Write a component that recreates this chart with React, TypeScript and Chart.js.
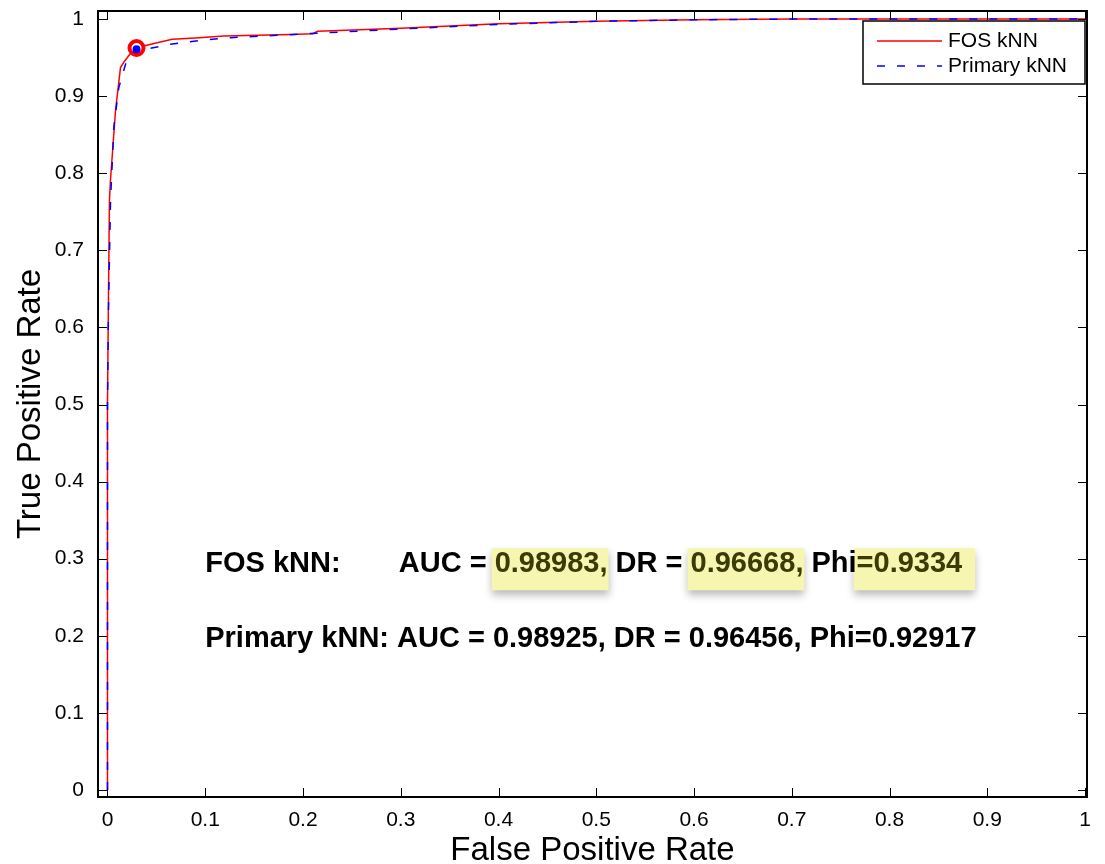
import React, { useEffect, useRef } from "react";
import { Chart, registerables } from "chart.js";

Chart.register(...registerables);

const FONT = '"Liberation Sans", Arial, Helvetica, sans-serif';

const seriesNames = ["FOS kNN", "Primary kNN"];

const fosX = [0, 0, 0.001, 0.002, 0.003, 0.0082, 0.0133, 0.0167, 0.0228, 0.0297, 0.0371, 0.0508, 0.0662, 0.09, 0.119, 0.187, 0.21, 0.215, 0.3, 0.4, 0.5, 0.6, 0.7, 1];
const fosY = [0, 0.5, 0.64, 0.764, 0.79, 0.881, 0.937, 0.9439, 0.9543, 0.9624, 0.965, 0.9693, 0.9737, 0.9755, 0.978, 0.98, 0.981, 0.984, 0.988, 0.994, 0.997, 0.999, 1, 1];

const priX = [0, 0, 0.001, 0.0031, 0.0065, 0.0116, 0.0184, 0.0235, 0.0297, 0.0389, 0.0644, 0.0951, 0.1258, 0.1736, 0.22, 0.3, 0.4, 0.5, 0.6, 0.7, 1];
const priY = [0, 0.5, 0.62, 0.764, 0.86, 0.911, 0.941, 0.954, 0.9605, 0.9607, 0.9672, 0.9724, 0.9758, 0.9789, 0.982, 0.987, 0.993, 0.997, 0.999, 1, 1];

const fosPoint = [0.0297, 0.9624];
const priPoint = [0.0297, 0.9608];

const fosStats = ["0.98983", "0.96668", "0.9334"];
const priStats = ["0.98925", "0.96456", "0.92917"];

const xTicks = [0, 0.1, 0.2, 0.3, 0.4, 0.5, 0.6, 0.7, 0.8, 0.9, 1];
const yTicks = [0, 0.1, 0.2, 0.3, 0.4, 0.5, 0.6, 0.7, 0.8, 0.9, 1];

const fmt = (v: number) => (v === 0 ? "0" : v === 1 ? "1" : v.toFixed(1));

const toPts = (xs: number[], ys: number[]) => xs.map((x, i) => ({ x, y: ys[i] }));

const overlay = {
  id: "overlay",
  afterDatasetsDraw(chart: any) {
    const { ctx, chartArea: ca } = chart;
    const xs = chart.scales.x;
    const ys = chart.scales.y;
    ctx.save();

    // annotation text
    ctx.font = `bold 29px ${FONT}`;
    ctx.textBaseline = "alphabetic";
    ctx.textAlign = "left";
    const x0 = xs.getPixelForValue(0.1);
    const x1 = xs.getPixelForValue(0.298);
    const yb1 = ys.getPixelForValue(0.2824);
    const yb2 = ys.getPixelForValue(0.185);
    ctx.fillStyle = "#000";
    ctx.fillText(`${seriesNames[0]}:`, x0, yb1);
    const segs: [string, boolean][] = [
      ["AUC = ", false],
      [fosStats[0] + ",", true],
      [" DR = ", false],
      [fosStats[1] + ",", true],
      [" Phi", false],
      ["=" + fosStats[2], true],
    ];
    let cx = x1;
    const pos = segs.map(([t]) => {
      const p = cx;
      cx += ctx.measureText(t).width;
      return p;
    });
    segs.forEach(([t, h], i) => {
      if (!h) return;
      const w = ctx.measureText(t).width;
      ctx.save();
      ctx.shadowColor = "rgba(0,0,0,0.28)";
      ctx.shadowBlur = 8;
      ctx.shadowOffsetY = 5;
      ctx.fillStyle = "rgb(246,246,176)";
      ctx.fillRect(pos[i] - 3, yb1 - 24, w + (i === 5 ? 16 : 4), 42);
      ctx.restore();
    });
    segs.forEach(([t, h], i) => {
      ctx.fillStyle = h ? "#3b3b06" : "#000";
      ctx.fillText(t, pos[i], yb1);
    });
    ctx.fillStyle = "#000";
    ctx.fillText(
      `${seriesNames[1]}: AUC = ${priStats[0]}, DR = ${priStats[1]}, Phi=${priStats[2]}`,
      x0,
      yb2
    );

    // frame
    ctx.strokeStyle = "#000";
    ctx.lineWidth = 2;
    ctx.strokeRect(ca.left, ca.top, ca.right - ca.left, ca.bottom - ca.top);
    // inward ticks
    ctx.lineWidth = 1;
    const tl = 9;
    ctx.beginPath();
    xTicks.forEach((v) => {
      const px = Math.round(xs.getPixelForValue(v)) + 0.5;
      ctx.moveTo(px, ca.bottom);
      ctx.lineTo(px, ca.bottom - tl);
      ctx.moveTo(px, ca.top);
      ctx.lineTo(px, ca.top + tl);
    });
    yTicks.forEach((v) => {
      const py = Math.round(ys.getPixelForValue(v)) + 0.5;
      ctx.moveTo(ca.left, py);
      ctx.lineTo(ca.left + tl, py);
      ctx.moveTo(ca.right, py);
      ctx.lineTo(ca.right - tl, py);
    });
    ctx.stroke();

    // legend
    const lw = 222;
    const lh = 63;
    const lx = ca.right - 2 - lw;
    const ly = ca.top + 10;
    ctx.fillStyle = "#fff";
    ctx.fillRect(lx, ly, lw, lh);
    ctx.lineWidth = 1.5;
    ctx.strokeStyle = "#000";
    ctx.strokeRect(lx, ly, lw, lh);
    ctx.font = `21px ${FONT}`;
    ctx.textBaseline = "middle";
    const entries = [
      { name: seriesNames[0], color: "#ff0000", dash: [] as number[], y: ly + 20 },
      { name: seriesNames[1], color: "#0000ff", dash: [8, 12], y: ly + 45 },
    ];
    entries.forEach((e) => {
      ctx.beginPath();
      ctx.setLineDash(e.dash);
      ctx.strokeStyle = e.color;
      ctx.lineWidth = 1.5;
      ctx.moveTo(lx + 14, e.y);
      ctx.lineTo(lx + 79, e.y);
      ctx.stroke();
      ctx.setLineDash([]);
      ctx.fillStyle = "#000";
      ctx.fillText(e.name, lx + 85, e.y);
    });

    ctx.restore();
  },
};

export default function App() {
  const ref = useRef<HTMLCanvasElement | null>(null);

  useEffect(() => {
    if (!ref.current) return;
    const chart = new Chart(ref.current, {
      type: "scatter",
      data: {
        datasets: [
          {
            label: "Primary point",
            data: [{ x: priPoint[0], y: priPoint[1] }],
            pointRadius: 4,
            pointBackgroundColor: "#0000ff",
            pointBorderWidth: 0,
            showLine: false,
            order: 0,
          },
          {
            label: "FOS point",
            data: [{ x: fosPoint[0], y: fosPoint[1] }],
            pointRadius: 7,
            pointBackgroundColor: "#ffffff",
            pointBorderColor: "#ff0000",
            pointBorderWidth: 4,
            showLine: false,
            order: 1,
          },
          {
            label: seriesNames[1],
            data: toPts(priX, priY),
            showLine: true,
            borderColor: "#0000ff",
            borderWidth: 1.5,
            borderDash: [8, 12],
            pointRadius: 0,
            tension: 0,
            order: 2,
          },
          {
            label: seriesNames[0],
            data: toPts(fosX, fosY),
            showLine: true,
            borderColor: "#ff0000",
            borderWidth: 1.5,
            pointRadius: 0,
            tension: 0,
            order: 3,
          },
        ],
      },
      options: {
        animation: false,
        responsive: false,
        devicePixelRatio: 1,
        layout: { padding: { left: 0, top: 10, right: 18, bottom: 0 } },
        plugins: {
          legend: { display: false },
          tooltip: { enabled: false },
        },
        scales: {
          x: {
            type: "linear",
            min: -0.0097,
            max: 1.002,
            grid: { display: false },
            border: { display: false },
            afterBuildTicks: (s: any) => {
              s.ticks = xTicks.map((v) => ({ value: v }));
            },
            afterFit: (s: any) => {
              s.height = 67;
              s.paddingLeft = 0;
              s.paddingRight = 0;
            },
            ticks: {
              color: "#000",
              font: { family: FONT, size: 21 },
              padding: 3,
              maxRotation: 0,
              autoSkip: false,
              callback: (v: any) => fmt(Number(v)),
            },
            title: {
              display: true,
              text: "False Positive Rate",
              color: "#000",
              font: { family: FONT, size: 33, lineHeight: 0.75 },
              padding: { top: 0, bottom: 1 },
            },
          },
          y: {
            type: "linear",
            min: -0.0091,
            max: 1.0104,
            grid: { display: false },
            border: { display: false },
            afterBuildTicks: (s: any) => {
              s.ticks = yTicks.map((v) => ({ value: v }));
            },
            afterFit: (s: any) => {
              s.width = 98;
              s.paddingTop = 0;
              s.paddingBottom = 0;
            },
            ticks: {
              color: "#000",
              font: { family: FONT, size: 21 },
              padding: 6,
              autoSkip: false,
              callback: (v: any) => fmt(Number(v)),
            },
            title: {
              display: true,
              text: "True Positive Rate",
              color: "#000",
              font: { family: FONT, size: 33, lineHeight: 1.2 },
              padding: { top: 11, bottom: 0 },
            },
          },
        },
      },
      plugins: [overlay],
    });
    return () => chart.destroy();
  }, []);

  return (
    <div style={{ position: "absolute", left: 0, top: 0, width: 1105, height: 864, background: "#fff" }}>
      <canvas ref={ref} width={1105} height={864} style={{ display: "block" }} />
    </div>
  );
}
